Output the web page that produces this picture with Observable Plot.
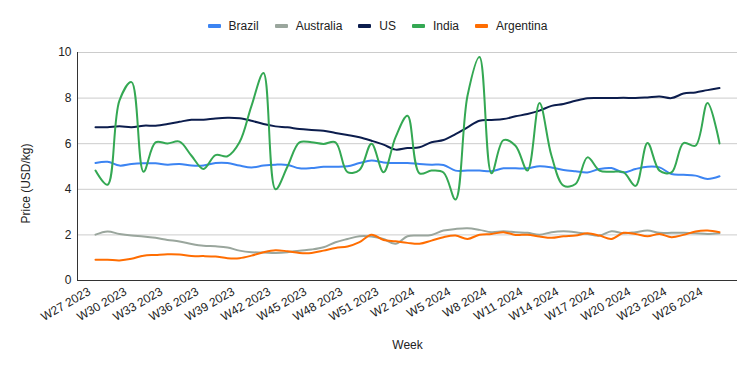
<!DOCTYPE html>
<html><head><meta charset="utf-8">
<script src="https://cdn.jsdelivr.net/npm/d3@7"></script>
<script src="https://cdn.jsdelivr.net/npm/@observablehq/plot@0.6"></script>
<style>
body{margin:0;background:#fff;font-family:Arial,"Liberation Sans",sans-serif;}
#wrap{position:relative;width:755px;height:371px;}
#legend{position:absolute;top:18px;left:0;width:755px;height:16px;display:flex;justify-content:center;align-items:center;font-size:12px;color:#222;}
.item{display:flex;align-items:center;margin:0 8px;}
.sw{width:13px;height:4px;border-radius:1px;margin-right:8px;}
</style></head><body>
<div id="wrap"><div id="legend"></div><div id="chart"></div></div>
<script>
const weeks = ["W27 2023","W28 2023","W29 2023","W30 2023","W31 2023","W32 2023","W33 2023","W34 2023","W35 2023","W36 2023","W37 2023","W38 2023","W39 2023","W40 2023","W41 2023","W42 2023","W43 2023","W44 2023","W45 2023","W46 2023","W47 2023","W48 2023","W49 2023","W50 2023","W51 2023","W52 2023","W1 2024","W2 2024","W3 2024","W4 2024","W5 2024","W6 2024","W7 2024","W8 2024","W9 2024","W10 2024","W11 2024","W12 2024","W13 2024","W14 2024","W15 2024","W16 2024","W17 2024","W18 2024","W19 2024","W20 2024","W21 2024","W22 2024","W23 2024","W24 2024","W25 2024","W26 2024","W27 2024"];
const tickWeeks = ["W27 2023","W30 2023","W33 2023","W36 2023","W39 2023","W42 2023","W45 2023","W48 2023","W51 2023","W2 2024","W5 2024","W8 2024","W11 2024","W14 2024","W17 2024","W20 2024","W23 2024","W26 2024"];
const countries = ["Brazil","Australia","US","India","Argentina"];
const colors = ["#3c84f2","#9aa69d","#0c1d4d","#34a853","#ff6d01"];
const brazil = [5.15,5.21,5.04,5.11,5.14,5.14,5.08,5.11,5.04,5.04,5.15,5.15,5.04,4.96,5.04,5.08,5.07,4.92,4.93,4.99,4.99,5.01,5.15,5.26,5.18,5.15,5.15,5.11,5.08,5.07,4.82,4.82,4.82,4.79,4.92,4.92,4.92,5.01,4.96,4.85,4.79,4.74,4.89,4.93,4.74,4.89,4.99,4.96,4.67,4.64,4.6,4.45,4.57];
const australia = [2.01,2.15,2.04,1.97,1.93,1.87,1.78,1.71,1.6,1.52,1.5,1.45,1.31,1.24,1.23,1.21,1.24,1.31,1.36,1.46,1.68,1.82,1.94,1.93,1.82,1.61,1.94,1.97,2.0,2.19,2.26,2.29,2.22,2.12,2.16,2.12,2.09,2.01,2.12,2.16,2.12,2.04,1.97,2.16,2.07,2.12,2.19,2.09,2.09,2.09,2.07,2.04,2.07];
const us = [6.72,6.72,6.76,6.72,6.79,6.79,6.86,6.96,7.05,7.05,7.11,7.14,7.12,7.01,6.86,6.76,6.72,6.64,6.6,6.57,6.47,6.38,6.28,6.13,5.96,5.74,5.81,5.84,6.06,6.16,6.42,6.72,7.01,7.04,7.08,7.2,7.3,7.45,7.66,7.74,7.88,7.99,8.0,8.0,8.01,8.0,8.03,8.07,8.0,8.2,8.25,8.35,8.44];
const india = [4.82,4.2,7.9,8.7,4.77,6.06,6.01,6.09,5.47,4.89,5.5,5.45,6.06,7.66,9.1,4.0,5.0,6.06,6.06,5.99,6.06,4.75,4.85,6.0,4.75,6.28,7.23,4.7,4.82,4.74,3.55,8.1,9.8,4.7,6.16,5.91,4.82,7.78,5.47,4.16,4.23,5.4,4.82,4.77,4.75,4.15,6.03,4.82,4.74,6.03,5.91,7.78,6.01];
const argentina = [0.91,0.91,0.88,0.95,1.09,1.12,1.15,1.14,1.07,1.07,1.05,0.98,0.98,1.09,1.24,1.33,1.28,1.21,1.21,1.31,1.43,1.49,1.68,2.01,1.78,1.72,1.65,1.61,1.75,1.9,1.97,1.82,2.01,2.04,2.12,2.0,2.01,1.93,1.87,1.94,1.97,2.07,1.97,1.82,2.09,2.04,1.94,2.04,1.9,2.0,2.15,2.19,2.12];
const yTicks = [0,2,4,6,8,10];

const seriesValues = [brazil, australia, us, india, argentina];
const rows = [];
countries.forEach((c, k) => seriesValues[k].forEach((v, i) => rows.push({week: weeks[i], country: c, value: v})));

const legend = document.getElementById("legend");
countries.forEach((c, k) => {
  const it = document.createElement("div"); it.className = "item";
  const sw = document.createElement("div"); sw.className = "sw"; sw.style.background = colors[k];
  const t = document.createElement("span"); t.textContent = c;
  it.appendChild(sw); it.appendChild(t); legend.appendChild(it);
});

const chart = Plot.plot({
  width: 755, height: 371,
  marginTop: 52, marginBottom: 91, marginLeft: 77, marginRight: 18,
  style: {fontFamily: "Arial, 'Liberation Sans', sans-serif", fontSize: "12px", color: "#222", background: "#fff"},
  x: {type: "point", domain: weeks, padding: 0.5, label: null},
  y: {domain: [0, 10], label: null},
  color: {domain: countries, range: colors},
  marks: [
    Plot.gridY(yTicks.slice(1), {stroke: "#cccccc", strokeOpacity: 1}),
    Plot.axisY({ticks: yTicks, tickSize: 0, tickPadding: 6, label: null, fill: "#222"}),
    Plot.axisX({ticks: tickWeeks, tickSize: 0, tickRotate: -30, tickPadding: 6, dx: -6, dy: 4, label: null, fill: "#222"}),
    Plot.line(rows, {x: "week", y: "value", z: "country", stroke: "country", strokeWidth: 2, curve: "catmull-rom"}),
    Plot.ruleY([0], {stroke: "#333"}),
    Plot.frame({anchor: "left", stroke: "#333"}),
    Plot.text(["Price (USD/kg)"], {frameAnchor: "left", rotate: -90, dx: -51, dy: 17, textAnchor: "middle", lineAnchor: "middle", fill: "#222"}),
    Plot.text(["Week"], {frameAnchor: "bottom", dy: 65, textAnchor: "middle", lineAnchor: "middle", fill: "#222"})
  ]
});
document.getElementById("chart").appendChild(chart);
</script></body></html>
